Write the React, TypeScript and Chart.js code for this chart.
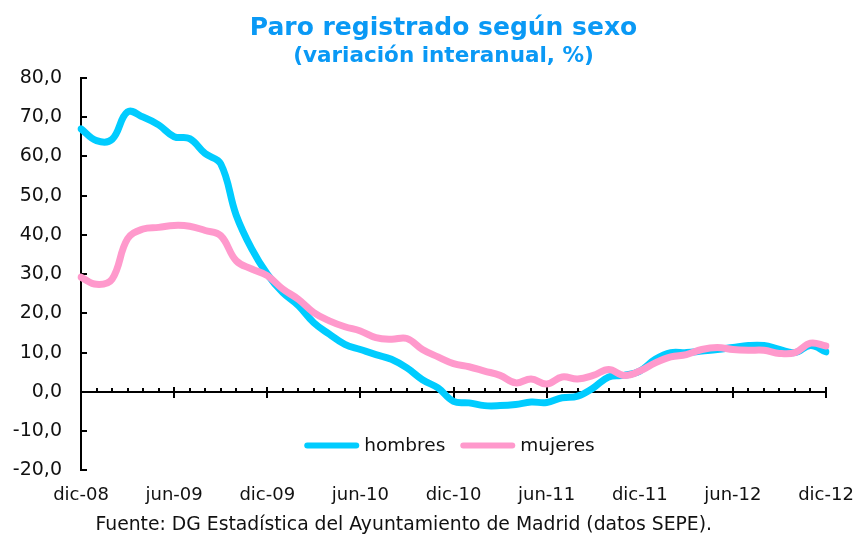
import React, { useEffect, useRef } from "react";
import { Chart, registerables } from "chart.js";

Chart.register(...registerables);

const TITLE = "Paro registrado según sexo";
const SUBTITLE = "(variación interanual, %)";
const SOURCE = "Fuente: DG Estadística del Ayuntamiento de Madrid (datos SEPE).";

const MONTHS = ["ene", "feb", "mar", "abr", "may", "jun", "jul", "ago", "sep", "oct", "nov", "dic"];
// dic-08 .. dic-12 (monthly)
const categories: string[] = [];
for (let k = 0; k < 49; k++) {
  const m = (11 + k) % 12;
  const y = 8 + Math.floor((11 + k) / 12);
  categories.push(`${MONTHS[m]}-${String(y).padStart(2, "0")}`);
}

const hombres = [
  67.0, 64.0, 64.3, 71.3, 70.0, 68.0, 65.0, 64.5, 60.7, 58.1,
  45.0, 36.4, 30.0, 25.3, 22.0, 17.6, 14.7, 12.1, 10.8, 9.5,
  8.3, 6.1, 3.1, 1.0, -2.4, -2.8, -3.5, -3.5, -3.2, -2.6,
  -2.7, -1.5, -1.1, 1.0, 3.8, 4.2, 5.3, 8.3, 10.0, 10.0,
  10.4, 10.8, 11.3, 11.8, 11.8, 10.8, 10.0, 11.8, 10.2,
];

const mujeres = [
  29.2, 27.4, 28.7, 39.0, 41.5, 41.9, 42.4, 42.2, 41.1, 39.8,
  33.4, 31.3, 29.6, 26.2, 23.6, 20.2, 18.1, 16.6, 15.5, 13.8,
  13.4, 13.6, 10.8, 8.9, 7.2, 6.4, 5.3, 4.2, 2.3, 3.3,
  2.0, 3.8, 3.3, 4.2, 5.7, 4.2, 5.3, 7.4, 8.9, 9.5,
  10.8, 11.3, 10.8, 10.6, 10.6, 9.8, 10.0, 12.4, 11.7,
];

const Y_MIN = -20;
const Y_MAX = 80;
const Y_STEP = 10;

const COLOR_H = "#00CCFF";
const COLOR_M = "#FF99CC";
const TITLE_COLOR = "#0A99F5";
const FONT = '"DejaVu Sans", Verdana, sans-serif';

const axesPlugin = {
  id: "axesDecor",
  afterLayout(chart: any) {
    // shift title & subtitle slightly right, like the original layout
    chart.boxes.forEach((b: any) => {
      if (b.position === "top" && b.options && b.options.text !== undefined) {
        b.left += 14;
        b.right += 14;
      }
    });
  },
  beforeDatasetsDraw(chart: any) {
    const { ctx, chartArea, scales } = chart;
    const x = scales.x;
    const y = scales.y;
    ctx.save();
    ctx.strokeStyle = "#000";
    ctx.lineWidth = 2;
    // y inward ticks
    y.ticks.forEach((t: any) => {
      const py = Math.round(y.getPixelForValue(t.value));
      ctx.beginPath();
      ctx.moveTo(chartArea.left, py);
      ctx.lineTo(chartArea.left + 6, py);
      ctx.stroke();
    });
    // zero line
    const p0 = Math.round(y.getPixelForValue(0));
    ctx.beginPath();
    ctx.moveTo(chartArea.left, p0);
    ctx.lineTo(chartArea.right, p0);
    ctx.stroke();
    for (let i = 0; i < categories.length; i++) {
      const px = Math.round(x.getPixelForValue(i));
      ctx.beginPath();
      if (i % 6 === 0) {
        ctx.moveTo(px, p0 - 5);
        ctx.lineTo(px, p0 + 6);
      } else {
        ctx.moveTo(px, p0 - 4);
        ctx.lineTo(px, p0);
      }
      ctx.stroke();
    }
    ctx.restore();
  },
  afterDraw(chart: any) {
    const { ctx, chartArea } = chart;
    ctx.save();
    // legend
    ctx.font = `18.5px ${FONT}`;
    ctx.textBaseline = "middle";
    ctx.textAlign = "left";
    const lineW = 55;
    const gap = 5;
    const itemGap = 15;
    const items = chart.data.datasets.map((d: any) => ({
      label: d.label,
      color: d.borderColor,
      w: lineW + gap + ctx.measureText(d.label).width,
    }));
    const total = items.reduce((s: number, it: any) => s + it.w, 0) + itemGap * (items.length - 1);
    let cx = (chartArea.left + chartArea.right) / 2 - 4 - total / 2;
    const ly = chartArea.bottom - 25;
    items.forEach((it: any) => {
      ctx.strokeStyle = it.color;
      ctx.lineWidth = 6;
      ctx.lineCap = "round";
      ctx.beginPath();
      ctx.moveTo(cx + 3, ly);
      ctx.lineTo(cx + lineW - 3, ly);
      ctx.stroke();
      ctx.fillStyle = "#111";
      ctx.fillText(it.label, cx + lineW + gap, ly + 1);
      cx += it.w + itemGap;
    });
    // source
    ctx.font = `18.8px ${FONT}`;
    ctx.textAlign = "center";
    ctx.fillStyle = "#111";
    ctx.fillText(SOURCE, chart.width * 0.47, chart.height - 10);
    ctx.restore();
  },
};

export default function App() {
  const ref = useRef<HTMLCanvasElement | null>(null);
  useEffect(() => {
    if (!ref.current) return;
    const chart = new Chart(ref.current, {
      type: "line",
      data: {
        labels: categories,
        datasets: [
          {
            label: "hombres",
            data: hombres,
            borderColor: COLOR_H,
            backgroundColor: COLOR_H,
            borderWidth: 7,
            pointRadius: 0,
            tension: 0.4,
            borderCapStyle: "round",
            borderJoinStyle: "round",
            order: 1,
          },
          {
            label: "mujeres",
            data: mujeres,
            borderColor: COLOR_M,
            backgroundColor: COLOR_M,
            borderWidth: 7,
            pointRadius: 0,
            tension: 0.4,
            borderCapStyle: "round",
            borderJoinStyle: "round",
            order: 0,
          },
        ],
      },
      options: {
        animation: false,
        responsive: true,
        maintainAspectRatio: false,
        layout: { padding: { left: 0, right: 0, top: 6, bottom: 15 } },
        plugins: {
          legend: { display: false },
          tooltip: { enabled: false },
          title: {
            display: true,
            text: TITLE,
            color: TITLE_COLOR,
            font: { family: FONT, size: 25, weight: "bold" },
            padding: { top: 7, bottom: 1 },
          },
          subtitle: {
            display: true,
            text: SUBTITLE,
            color: TITLE_COLOR,
            font: { family: FONT, size: 21.5, weight: "bold" },
            padding: { top: 0, bottom: 8 },
          },
        },
        scales: {
          x: {
            type: "category",
            offset: false,
            grid: { display: false, drawTicks: false },
            border: { display: false },
            ticks: {
              autoSkip: false,
              maxRotation: 0,
              minRotation: 0,
              padding: 14,
              color: "#111",
              font: { family: FONT, size: 18 },
              callback: (_v: any, i: number) => (i % 6 === 0 ? categories[i] : ""),
            },
            afterFit: (s: any) => {
              s.paddingRight = 33;
            },
          },
          y: {
            min: Y_MIN,
            max: Y_MAX,
            grid: { drawOnChartArea: false, drawTicks: false },
            border: { display: true, color: "#000", width: 2 },
            ticks: {
              stepSize: Y_STEP,
              padding: 19,
              color: "#111",
              font: { family: FONT, size: 19 },
              callback: (v: any) => Number(v).toFixed(1).replace(".", ","),
            },
            afterFit: (s: any) => {
              s.width = 81;
            },
          },
        },
      },
      plugins: [axesPlugin],
    });
    return () => chart.destroy();
  }, []);

  return (
    <div style={{ position: "fixed", left: 0, top: 0, width: 859, height: 535, background: "#fff" }}>
      <canvas ref={ref} />
    </div>
  );
}
